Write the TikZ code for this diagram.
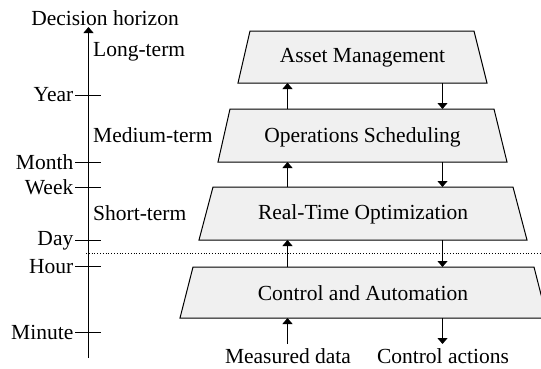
\documentclass[tikz,border=0pt]{standalone}
\usepackage{fontspec}
\setmainfont{Liberation Serif}
\usetikzlibrary{arrows.meta}
\definecolor{boxfill}{RGB}{240,240,240}
\tikzset{
  lbl/.style={font=\fontsize{21.5}{24}\selectfont, inner sep=0pt},
  boxshape/.style={draw=black, fill=boxfill, line width=1pt},
  arr/.style={line width=1.1pt, -{Triangle[length=6pt,width=10pt]}},
  tickline/.style={line width=1pt},
}
\begin{document}
\begin{tikzpicture}[x=1pt,y=-1pt]
\useasboundingbox (0,0) rectangle (541,368);
% axis
\coordinate (axB) at (88.5,358);
\coordinate (axT) at (88.5,27);
\draw[arr, line width=1pt] (axB) -- (axT);
\node[lbl] (dh) at (105,18) {Decision horizon};
% ticks
\foreach \nm/\yy/\tx in {year/95/Year, month/162/Month, week/187/Week, day/240.5/Day, hour/266.5/Hour, minute/332/Minute}{
  \coordinate (t\nm L) at (75,\yy);
  \coordinate (t\nm R) at (101,\yy);
  \draw[tickline] (t\nm L) -- (t\nm R);
  \node[lbl, anchor=east] (l\nm) at (73.5,\yy) {\tx};
}
\node[lbl, anchor=west] (lt) at (93,52) {Long-term};
\node[lbl, anchor=west] (mt) at (93,135) {Medium-term};
\node[lbl, anchor=west] (st) at (93,213) {Short-term};
% dotted line
\coordinate (dl) at (86,253);
\coordinate (dr) at (541,253);
\draw[dotted, line width=0.8pt] (dl) -- (dr);
% boxes
\draw[boxshape] (250,31) -- (474,31) -- (487,83) -- (238,83) -- cycle;
\draw[boxshape] (230,109) -- (494,109) -- (507,162) -- (218,162) -- cycle;
\draw[boxshape] (213,187) -- (513,187) -- (527,240) -- (199,240) -- cycle;
\draw[boxshape] (193,267) -- (534,267) -- (547,318) -- (180,318) -- cycle;
\node[lbl] (am) at (362.5,58) {Asset Management};
\node[lbl] (os) at (362.5,137) {Operations Scheduling};
\node[lbl] (rto) at (363,214) {Real-Time Optimization};
\node[lbl] (ca) at (363,293) {Control and Automation};
% arrow anchor coordinates
\coordinate (amB) at (0,83);
\coordinate (osT) at (0,109);
\coordinate (osB) at (0,162);
\coordinate (rtoT) at (0,187);
\coordinate (rtoB) at (0,240);
\coordinate (caT) at (0,267);
\coordinate (caB) at (0,318);
\coordinate (L) at (287.5,0);
\coordinate (R) at (442.5,0);
\node[lbl] (md) at (288,356) {Measured data};
\node[lbl] (cac) at (443,356) {Control actions};
\coordinate (mdT) at (287.5,344);
\coordinate (cacT) at (442.5,344);
% arrows
\draw[arr] (osT -| L) -- (amB -| L);
\draw[arr] (amB -| R) -- (osT -| R);
\draw[arr] (rtoT -| L) -- (osB -| L);
\draw[arr] (osB -| R) -- (rtoT -| R);
\draw[arr] (caT -| L) -- (rtoB -| L);
\draw[arr] (rtoB -| R) -- (caT -| R);
\draw[arr] (mdT) -- (caB -| L);
\draw[arr] (caB -| R) -- (cacT);
\end{tikzpicture}
\end{document}
